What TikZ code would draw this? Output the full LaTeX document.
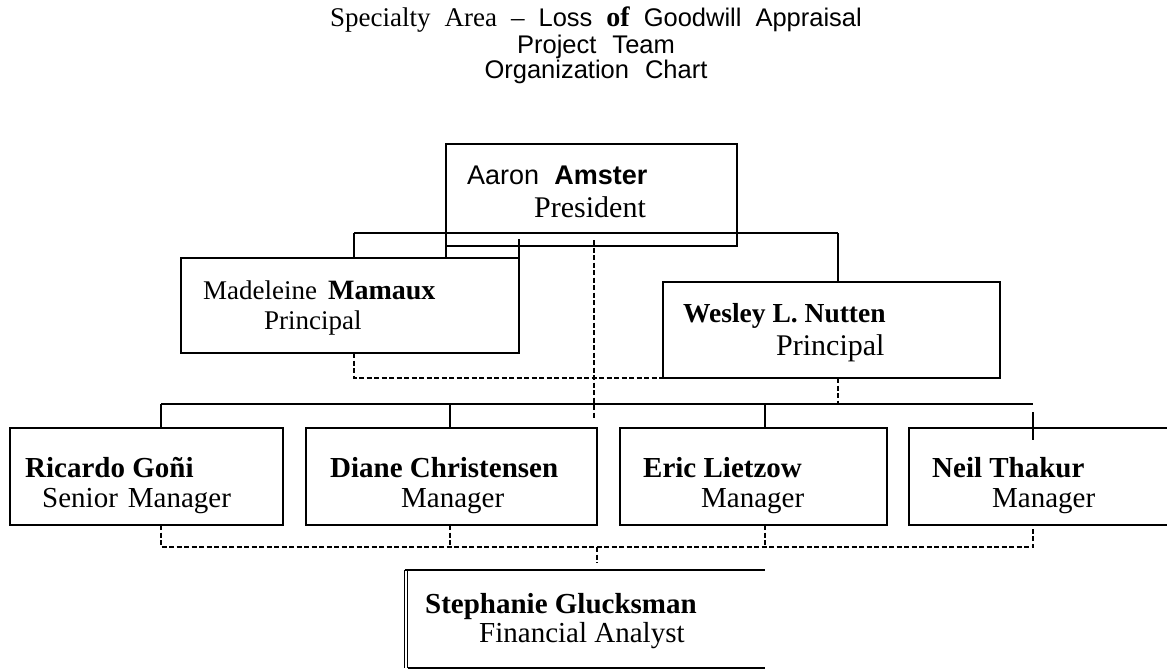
\documentclass[tikz,border=0pt]{standalone}
\usepackage{fontspec}
\setmainfont{Liberation Serif}
\newfontfamily\arialf{Liberation Sans}
\begin{document}
\begin{tikzpicture}[x=1pt,y=-1pt,
  box/.style={draw,line width=1.5pt,inner sep=0pt,outer sep=0pt},
  conn/.style={line width=1.3pt},
  dconn/.style={line width=1.2pt,dash pattern=on 5pt off 2.5pt},
  txt/.style={anchor=base west,inner sep=0pt},
  ttl/.style={anchor=base,inner sep=0pt,font=\fontsize{25.5}{28}\selectfont\arialf},
  nm/.style={txt,font=\fontsize{29}{31}\selectfont\bfseries},
  rl/.style={txt,font=\fontsize{29}{31}\selectfont}]
\useasboundingbox[fill=white] (0,0) rectangle (1167,669);
\clip (0,0) rectangle (1167,669);
% titles
\node[ttl] (t1) at (596,27) {{\fontsize{27}{28}\rmfamily Specialty\hspace{14pt}Area\hspace{14pt}--}\hspace{14pt}Loss\hspace{14pt}{\fontsize{28}{28}\rmfamily\bfseries of}\hspace{14pt}Goodwill\hspace{14pt}Appraisal};
\node[ttl] (t2) at (596,53) {Project\hspace{16pt}Team};
\node[ttl] (t3) at (596,78) {Organization\hspace{16pt}Chart};
% boxes
\node[box,minimum width=291pt,minimum height=102pt] (pres) at (591.5,195) {};
\node[box,minimum width=338pt,minimum height=95pt] (mad) at (350,305.5) {};
\node[box,minimum width=337pt,minimum height=96pt] (wes) at (831.5,330) {};
\node[box,minimum width=273pt,minimum height=97pt] (ric) at (146.5,476.5) {};
\node[box,minimum width=291pt,minimum height=97pt] (dia) at (451.5,476.5) {};
\node[box,minimum width=267pt,minimum height=97pt] (eri) at (753.5,476.5) {};
\node[box,minimum width=280pt,minimum height=97pt] (nei) at (1049,476.5) {};
\node[inner sep=0pt,minimum width=360pt,minimum height=98pt] (ste) at (585,619) {};
\draw[line width=1.5pt] (ste.north west) -- (ste.north east);
\draw[line width=1.5pt] ([xshift=3pt]ste.south west) -- (ste.south east);
\draw[line width=1.2pt] (ste.north west) -- (ste.south west);
\draw[line width=1.2pt] ([xshift=3pt]ste.north west) -- ([xshift=3pt]ste.south west);
% box artifacts
\draw[line width=1.5pt] (pres.south west) -- (pres.south west |- mad.north);
\draw[line width=1.5pt] (mad.north east) -- ++(0,-19);
% texts
\node[txt,font=\fontsize{27}{30}\selectfont\arialf] (pn) at (467,184) {Aaron\ \ \textbf{Amster}};
\node[rl,font=\fontsize{30}{32}\selectfont] (pr) at (534,217) {President};
\node[txt,font=\fontsize{27}{30}\selectfont] (mn) at (203,299) {Madeleine\hspace{11pt}\textbf{\fontsize{28}{30}\selectfont Mamaux}};
\node[rl,font=\fontsize{27}{30}\selectfont] (mr) at (264,329) {Principal};
\node[nm,font=\fontsize{27.5}{30}\selectfont\bfseries] (wn) at (683,322) {Wesley L. Nutten};
\node[rl,font=\fontsize{30}{32}\selectfont] (wr) at (776,355) {Principal};
\node[nm] (rn) at (25,477) {Ricardo Goñi};
\node[rl] (rr) at (42,507) {Senior\hspace{10pt}Manager};
\node[nm] (dn) at (330,477) {Diane Christensen};
\node[rl] (dr) at (401,507) {Manager};
\node[nm] (en) at (643,477) {Eric Lietzow};
\node[rl] (er) at (701,507) {Manager};
\node[nm] (nn) at (932,477) {Neil Thakur};
\node[rl] (nr) at (992,507) {Manager};
\node[nm] (sn) at (425,613) {Stephanie Glucksman};
\node[rl] (sr) at (479,642) {Financial Analyst};
% top bus
\coordinate (busL) at (354,233);
\coordinate (busR) at (838,233);
\draw[conn] (busL) -- (busR);
\draw[conn] (busL) -- (busL |- mad.north);
\draw[conn] (busR) -- (busR |- wes.north);
% dashed from president area
\coordinate (dvT) at (594,240);
\coordinate (dvB) at (594,418);
\draw[dconn] (dvT) -- (dvB);
% Madeleine dotted line to Wesley
\coordinate (mdA) at (354,353);
\coordinate (mdB) at (354,378);
\draw[dconn] (mdA) -- (mdB) -- (wes.south west);
% manager bus
\coordinate (mbL) at (161,404);
\coordinate (mbR) at (1033,404);
\coordinate (wdrop) at (838,378);
\coordinate (dDrop) at (450,404);
\coordinate (eDrop) at (765,404);
\coordinate (nT) at (1033,412);
\coordinate (nB) at (1033,440);
\draw[dconn] (wdrop) -- (wdrop |- mbL);
\draw[conn] (mbL) -- (mbR);
\draw[conn] (mbL) -- (mbL |- ric.north);
\draw[conn] (dDrop) -- (dDrop |- dia.north);
\draw[conn] (eDrop) -- (eDrop |- eri.north);
\draw[conn] (nT) -- (nB);
% bottom dashed bus
\coordinate (bbL) at (161,547);
\coordinate (bbR) at (1033,547);
\coordinate (bbD) at (450,547);
\coordinate (bbE) at (765,547);
\coordinate (bbS) at (597,547);
\coordinate (bbS2) at (597,563);
\draw[dconn] (bbL |- ric.south) -- (bbL) -- (bbR) -- (bbR |- nei.south);
\draw[dconn] (bbD |- dia.south) -- (bbD);
\draw[dconn] (bbE |- eri.south) -- (bbE);
\draw[dconn] (bbS) -- (bbS2);
\end{tikzpicture}
\end{document}
